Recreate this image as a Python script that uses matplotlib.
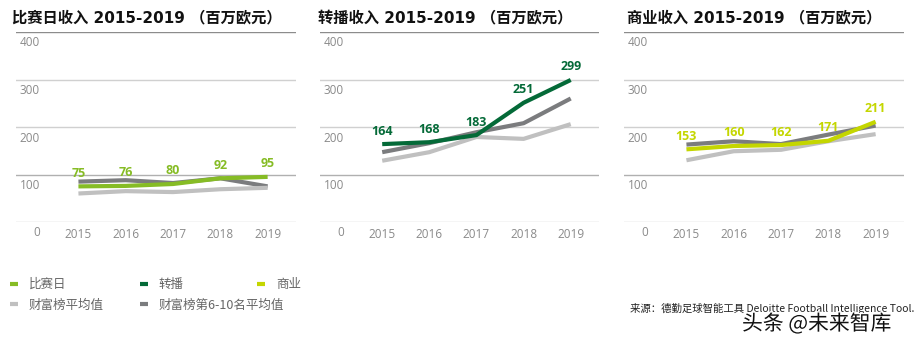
import matplotlib
matplotlib.use('Agg')
import matplotlib.pyplot as plt
import matplotlib.patheffects as pe
from matplotlib.lines import Line2D

plt.rcParams['font.family'] = ['Open Sans', 'Noto Sans CJK SC', 'DejaVu Sans']

# data
years = ['2015', '2016', '2017', '2018', '2019']
titles = ['比赛日收入', '转播收入', '商业收入']

matchday = [75, 76, 80, 92, 95]
broadcast = [164, 168, 183, 251, 299]
commercial = [153, 160, 162, 171, 211]

# average of the money league, and of places 6-10
avg_all = [[60, 65, 63, 69, 72],
           [129, 147, 179, 175, 206],
           [130, 149, 152, 170, 185]]
avg_6_10 = [[85, 88, 82, 92, 75],
            [147, 166, 189, 208, 260],
            [163, 170, 164, 184, 203]]

main_series = [matchday, broadcast, commercial]
main_colors = ['#86bc25', '#046a38', '#c4d600']
light_gray = '#c0c0c0'
dark_gray = '#7b7c7e'

yticks = [0, 100, 200, 300, 400]

W, H = 922, 347
fig = plt.figure(figsize=(W / 100, H / 100), dpi=100)

# panel extents in pixels (left, right)
panels = [(16, 296), (320, 599), (624, 904)]
title_x = [12, 318, 627]
top_px, bot_px = 32, 222

x = list(range(len(years)))
for i, (l, r) in enumerate(panels):
    ax = fig.add_axes([l / W, (H - bot_px) / H, (r - l) / W, (bot_px - top_px) / H])
    ax.set_xlim(-1.32, 4.6)
    ax.set_ylim(0, 400)
    for s in ax.spines.values():
        s.set_visible(False)
    ax.set_yticks([])
    ax.set_xticks(x)
    ax.set_xticklabels(years, color='#8a8a8a', fontsize=8.5)
    ax.tick_params(axis='x', length=0, pad=4)

    for v in yticks:
        c = '#8c8c8c' if v == 400 else ('#b0b0b0' if v == 100 else '#d0d0d0')
        ax.axhline(v, color=c, lw=1, zorder=1)
        ax.annotate(str(v), xy=(24 / (r - l), v), xycoords=ax.get_yaxis_transform(),
                    xytext=(0, -11), textcoords='offset pixels',
                    ha='right', va='center', color='#8a8a8a', fontsize=8.5)

    ax.plot(x, avg_6_10[i], color=dark_gray, lw=3, zorder=2, solid_capstyle='butt')
    ax.plot(x, avg_all[i], color=light_gray, lw=3, zorder=2, solid_capstyle='butt')
    ax.plot(x, main_series[i], color=main_colors[i], lw=3, zorder=3, solid_capstyle='butt')

    for xi, v in zip(x, main_series[i]):
        ax.annotate(str(v), xy=(xi, v), xytext=(0, 13), textcoords='offset pixels',
                    ha='center', va='center', fontsize=9, fontweight='bold',
                    color=main_colors[i], zorder=4)

    ax.text((title_x[i] - l) / (r - l), 1 + 14 / (bot_px - top_px),
            titles[i] + ' 2015-2019 （百万欧元）', transform=ax.transAxes,
            ha='left', va='center', fontsize=11, fontweight='bold', color='#111111',
            family=['DejaVu Sans', 'Noto Sans CJK SC'])

# legend, three columns placed by hand
legend_cols = [
    ([('比赛日', main_colors[0]), ('财富榜平均值', light_gray)], 10),
    ([('转播', main_colors[1]), ('财富榜第6-10名平均值', dark_gray)], 140),
    ([('商业', main_colors[2])], 257),
]
for entries, px in legend_cols:
    handles = [Line2D([], [], color=c, lw=3, solid_capstyle='butt') for _, c in entries]
    labels = [t for t, _ in entries]
    fig.legend(handles, labels, loc='upper left',
               bbox_to_anchor=(px / W, 1 - 278 / H), frameon=False,
               handlelength=0.6, handletextpad=0.9, labelspacing=0.6,
               borderpad=0, borderaxespad=0, labelcolor='#666666',
               prop={'family': ['Noto Sans CJK SC', 'DejaVu Sans'], 'size': 9})

fig.text(630 / W, 1 - 308 / H, '来源：德勤足球智能工具 Deloitte Football Intelligence Tool.',
         ha='left', va='center', fontsize=7.5, color='#222222',
         family=['Noto Sans CJK SC', 'DejaVu Sans'])
wm = fig.text(742 / W, 1 - 324 / H, '头条 @未来智库', ha='left', va='center',
              fontsize=15, color='#111111', family=['Noto Sans CJK SC', 'DejaVu Sans'])
wm.set_path_effects([pe.withStroke(linewidth=2, foreground='white')])

fig.savefig('out.png', dpi=100)
